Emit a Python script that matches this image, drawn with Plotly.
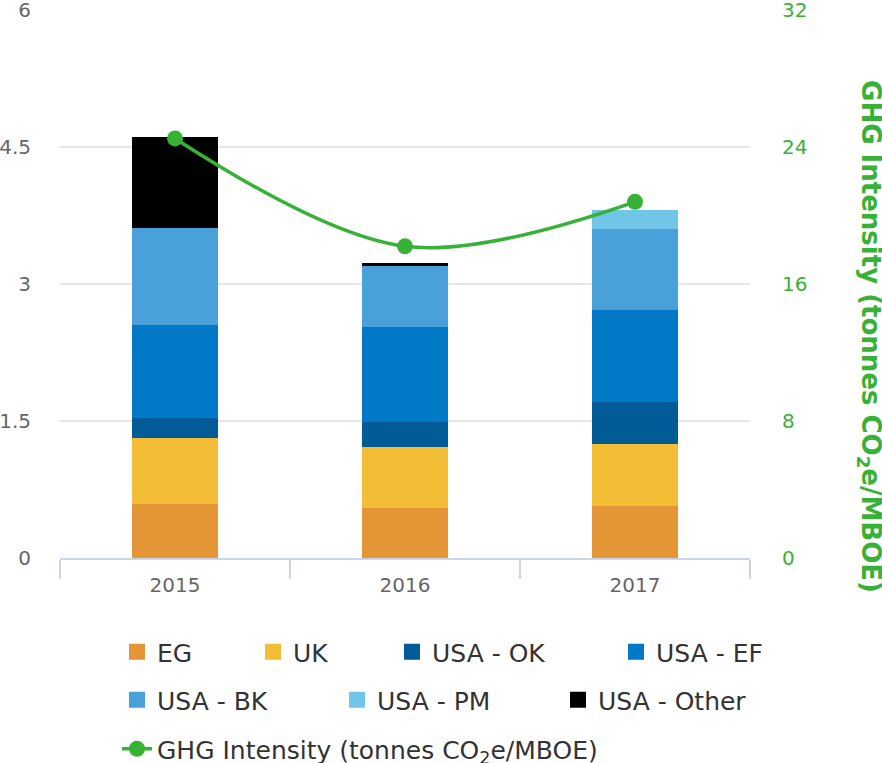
import plotly.graph_objects as go

# ---------------- data ----------------
years = ["2015", "2016", "2017"]
eg = [0.59, 0.55, 0.57]
uk = [0.72, 0.66, 0.68]
usa_ok = [0.22, 0.28, 0.46]
usa_ef = [1.02, 1.04, 1.00]
usa_bk = [1.06, 0.67, 0.89]
usa_pm = [0.0, 0.0, 0.21]
usa_other = [1.00, 0.03, 0.0]
ghg_intensity = [24.5, 18.2, 20.8]

left_ticks = [0, 1.5, 3, 4.5, 6]
right_ticks = [0, 8, 16, 24, 32]

series_names = ["EG", "UK", "USA - OK", "USA - EF", "USA - BK", "USA - PM", "USA - Other"]
series_values = [eg, uk, usa_ok, usa_ef, usa_bk, usa_pm, usa_other]
series_colors = ["#e49536", "#f3be35", "#005b97", "#0179c7", "#4aa0d8", "#71c5e7", "#000000"]
line_name = "GHG Intensity (tonnes CO<sub>2</sub>e/MBOE)"
green = "#38b236"

W, H = 882, 763
FONT = "DejaVu Sans"

# legend item placement: (left edge of legend box, vertical centre) in pixels
legend_pos = [(117, 652), (253, 652), (392, 652), (616, 652),
              (117, 700), (337, 700), (558, 700), (117, 749)]

fig = go.Figure()

for i, (name, vals, col) in enumerate(zip(series_names, series_values, series_colors)):
    lg = "legend" if i == 0 else f"legend{i + 1}"
    fig.add_trace(go.Bar(
        x=years, y=vals, name=name, marker=dict(color=col, line=dict(width=0)),
        width=0.37, legendgroup=name, showlegend=False, hoverinfo="x+y+name",
    ))
    # legend entry with a larger square symbol
    fig.add_trace(go.Scatter(
        x=[None], y=[None], name=name, mode="markers", legend=lg,
        marker=dict(symbol="square", size=16, color=col), legendgroup=name,
        showlegend=True, hoverinfo="skip",
    ))

fig.add_trace(go.Scatter(
    x=years, y=ghg_intensity, name=line_name, yaxis="y2",
    mode="lines+markers", line=dict(color=green, width=3.5, shape="spline", smoothing=1),
    marker=dict(color=green, size=16), legend="legend8",
))

legends = {}
for i, (lx, cy) in enumerate(legend_pos):
    key = "legend" if i == 0 else f"legend{i + 1}"
    legends[key] = dict(
        xref="container", yref="container",
        x=lx / W, y=1 - cy / H, xanchor="left", yanchor="middle",
        orientation="h", bgcolor="rgba(0,0,0,0)", borderwidth=0,
        font=dict(family=FONT, size=25, color="#333333"),
    )

top_pad = 1 + 1 / 548  # one pixel of headroom so the top gridline is drawn

fig.update_layout(
    width=W, height=H, autosize=False,
    margin=dict(l=60, r=132, t=9, b=205, pad=0),
    paper_bgcolor="white", plot_bgcolor="white",
    barmode="stack",
    font=dict(family=FONT, color="#666666"),
    xaxis=dict(
        type="category", range=[-0.5, 2.5], showline=True, linecolor="#ccd6eb", linewidth=2,
        ticks="outside", tickson="boundaries", ticklen=19, tickwidth=2, tickcolor="#ccd6eb",
        tickfont=dict(family=FONT, size=20, color="#666666"), showgrid=False, zeroline=False,
        ticklabelstandoff=8, automargin=False,
    ),
    yaxis=dict(
        range=[0, 6 * top_pad], tickvals=left_ticks, showgrid=True, gridcolor="#e6e6e6",
        gridwidth=2, zeroline=False, showline=False, ticks="", ticklabelstandoff=28,
        ticklabeloverflow="allow", automargin=False,
        tickfont=dict(family=FONT, size=20, color="#666666"),
    ),
    yaxis2=dict(
        range=[0, 32 * top_pad], tickvals=right_ticks, overlaying="y", side="right",
        showgrid=False, zeroline=False, showline=False, ticks="", ticklabelstandoff=31,
        ticklabeloverflow="allow", automargin=False,
        tickfont=dict(family=FONT, size=20, color=green),
    ),
    annotations=[dict(
        text="GHG Intensity (tonnes CO<sub>2</sub>e/MBOE)", textangle=90,
        xref="paper", yref="paper", x=(870 - 60) / 690, y=(558 - 336.5) / 548,
        xanchor="center", yanchor="middle", showarrow=False,
        font=dict(family=FONT, size=26, color=green, weight="bold"),
    )],
    **legends,
)

fig.write_html("out.html", config={"displayModeBar": False},
               post_script="document.body.style.margin='0';")
